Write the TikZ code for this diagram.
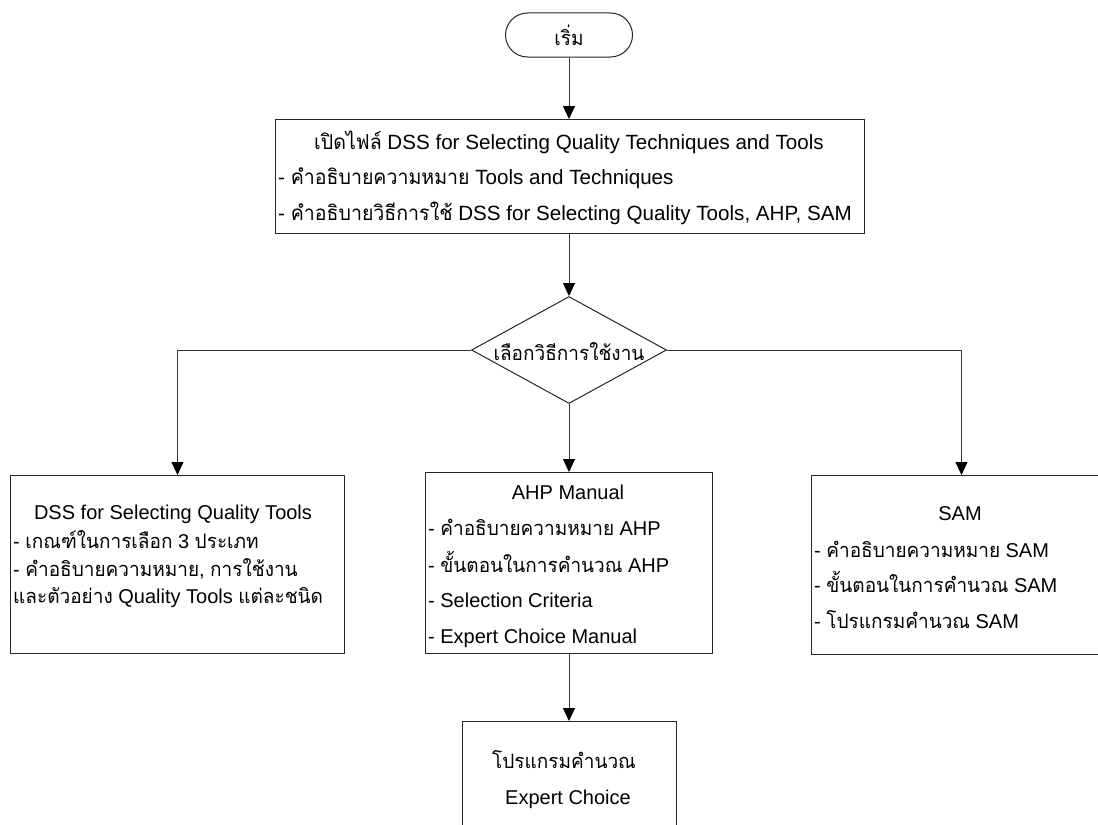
\documentclass[tikz,border=0pt]{standalone}
\usepackage{fontspec}
\setmainfont{Liberation Sans}
\newfontfamily\thaifont[Script=Thai,FakeStretch=0.95]{Loma}
\newcommand\tht[1]{{\thaifont #1}}
\usetikzlibrary{shapes.geometric,arrows.meta}

\begin{document}
\begin{tikzpicture}[x=1bp,y=-1bp,
  every node/.style={font=\fontsize{20bp}{24bp}\selectfont},
  big/.style={font=\fontsize{20.6bp}{24bp}\selectfont},
  txt/.style={inner sep=0pt, anchor=base west},
  ctxt/.style={inner sep=0pt, anchor=base},
  box/.style={draw=black!85, line width=1bp, inner sep=0pt, anchor=north west},
  flow/.style={draw=black!80, line width=1bp,
    -{Triangle[length=13bp,width=12bp,color=black,fill=black]}},
]
\useasboundingbox (0,0) rectangle (1098,825);
\fill[white] (0,0) rectangle (1098,825);
\clip (0,0) rectangle (1098,825);

% start terminal
\node[draw=black!85, line width=1bp, rectangle, rounded corners=22bp,
      minimum width=127bp, minimum height=44bp, inner sep=0pt] (start) at (569,35) {};
\node[ctxt] (startlbl) at (569,45) {\tht{เริ่ม}};

% open file box
\node[box, minimum width=589bp, minimum height=114bp] (open) at (275,119) {};
\node[ctxt, big] (open1) at (569,149) {\tht{เปิดไฟล์} DSS for Selecting Quality Techniques and Tools};
\node[txt, big] (open2) at (278,184) {- \tht{คำอธิบายความหมาย} Tools and Techniques};
\node[txt, big] (open3) at (278,220) {- \tht{คำอธิบายวิธีการใช้} DSS for Selecting Quality Tools, AHP, SAM};

% decision
\node[draw=black!85, line width=1bp, diamond, inner sep=0pt,
      minimum width=195bp, minimum height=107bp] (choose) at (569,350) {};
\node[ctxt] (chooselbl) at (569,360) {\tht{เลือกวิธีการใช้งาน}};

% left branch: DSS for Selecting Quality Tools
\node[box, minimum width=334bp, minimum height=178bp] (dss) at (10,475) {};
\node[ctxt] (dss1) at (173,519) {DSS for Selecting Quality Tools};
\node[txt] (dss2) at (13,548) {- \tht{เกณฑ์ในการเลือก} 3 \tht{ประเภท}};
\node[txt] (dss3) at (13,576) {- \tht{คำอธิบายความหมาย}, \tht{การใช้งาน}};
\node[txt] (dss4) at (13,603) {\tht{และตัวอย่าง} Quality Tools \tht{แต่ละชนิด}};

% middle branch: AHP Manual
\node[box, minimum width=287bp, minimum height=181bp] (ahp) at (425,472) {};
\node[ctxt] (ahp1) at (568,499) {AHP Manual};
\node[txt] (ahp2) at (428,535) {- \tht{คำอธิบายความหมาย} AHP};
\node[txt] (ahp3) at (428,572) {- \tht{ขั้นตอนในการคำนวณ} AHP};
\node[txt] (ahp4) at (428,607) {- Selection Criteria};
\node[txt] (ahp5) at (428,643) {- Expert Choice Manual};

% right branch: SAM
\node[box, minimum width=300bp, minimum height=179bp] (sam) at (811,475) {};
\node[ctxt] (sam1) at (960,520) {SAM};
\node[txt] (sam2) at (814,557) {- \tht{คำอธิบายความหมาย} SAM};
\node[txt] (sam3) at (814,592) {- \tht{ขั้นตอนในการคำนวณ} SAM};
\node[txt] (sam4) at (814,628) {- \tht{โปรแกรมคำนวณ} SAM};

% Expert Choice program
\node[box, minimum width=214bp, minimum height=130bp] (prog) at (462,721) {};
\node[ctxt] (prog1) at (564,768) {\tht{โปรแกรมคำนวณ}};
\node[ctxt] (prog2) at (568,804) {Expert Choice};

% connectors
\draw[flow] (start.south) -- (start.south |- open.north);
\draw[flow] (choose.north |- open.south) -- (choose.north);
\draw[flow] (choose.west) -| (dss.north);
\draw[flow] (choose.east) -| (sam.north);
\draw[flow] (choose.south) -- (choose.south |- ahp.north);
\draw[flow] (choose.south |- ahp.south) -- (choose.south |- prog.north);
\end{tikzpicture}
\end{document}
